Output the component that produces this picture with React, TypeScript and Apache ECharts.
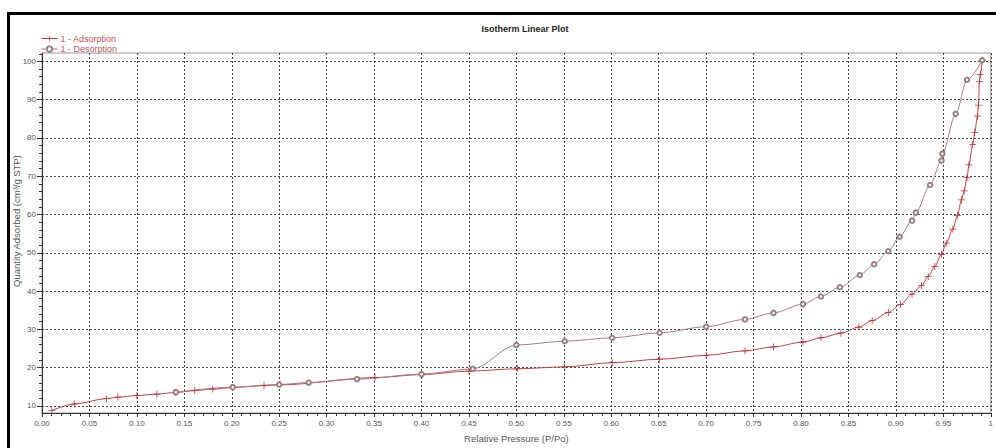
import React, { useEffect, useRef } from "react";
import * as echarts from "echarts";

const adsP = [0.0103, 0.034, 0.068, 0.08, 0.1, 0.121, 0.141, 0.161, 0.18, 0.201, 0.234, 0.251, 0.351, 0.401, 0.45, 0.501, 0.551, 0.601, 0.651, 0.7, 0.741, 0.771, 0.802, 0.821, 0.842, 0.861, 0.875, 0.892, 0.905, 0.917, 0.927, 0.934, 0.941, 0.948, 0.953, 0.96, 0.965, 0.969, 0.972, 0.975, 0.977, 0.981, 0.983, 0.986, 0.987, 0.988, 0.989, 0.991];
const adsQ = [8.8, 10.5, 11.9, 12.3, 12.7, 13.1, 13.5, 14.0, 14.4, 14.8, 15.3, 15.5, 17.4, 18.2, 19.1, 19.7, 20.2, 21.3, 22.2, 23.2, 24.4, 25.4, 26.7, 27.8, 29.0, 30.6, 32.3, 34.4, 36.5, 39.2, 41.4, 43.8, 46.4, 49.6, 52.5, 56.2, 59.8, 63.8, 66.2, 69.7, 73.0, 78.3, 81.4, 85.7, 88.6, 94.8, 96.6, 100.3];

const desP = [0.141, 0.201, 0.25, 0.281, 0.332, 0.4, 0.454, 0.5, 0.551, 0.601, 0.651, 0.7, 0.741, 0.771, 0.802, 0.821, 0.841, 0.862, 0.877, 0.892, 0.904, 0.917, 0.921, 0.936, 0.948, 0.949, 0.963, 0.975, 0.991];
const desQ = [13.6, 14.9, 15.6, 16.1, 17.0, 18.3, 19.7, 25.9, 26.9, 27.8, 29.1, 30.7, 32.6, 34.3, 36.6, 38.6, 41.0, 44.2, 47.0, 50.4, 54.2, 58.4, 60.5, 67.7, 74.1, 75.9, 86.3, 95.2, 100.3];

const yMajor = [10, 20, 30, 40, 50, 60, 70, 80, 90, 100];
const yMinor = [10, 12, 14, 16, 18, 20, 22, 24, 26, 28, 30, 32, 34, 36, 38, 40, 42, 44, 46, 48, 50, 52, 54, 56, 58, 60, 62, 64, 66, 68, 70, 72, 74, 76, 78, 80, 82, 84, 86, 88, 90, 92, 94, 96, 98, 100, 102];

const ADS_COLOR = "#cc3d42";
const DES_COLOR = "#b07b7d";
const PLUS = "path://M4.45,0H5.55V4.45H10V5.55H5.55V10H4.45V5.55H0V4.45H4.45Z";
const FONT = "Liberation Sans";

export default function App() {
  const ref = useRef<HTMLDivElement>(null);
  useEffect(() => {
    if (!ref.current) return;
    const chart = echarts.init(ref.current, null, { renderer: "svg" });
    const ads = adsP.map((p, i) => [p, adsQ[i]]);
    const des = desP.map((p, i) => [p, desQ[i]]);
    const split = { show: true, lineStyle: { color: "#444", type: [2, 2] as any, width: 1 } };
    chart.setOption({
      animation: false,
      backgroundColor: "#fff",
      textStyle: { fontFamily: FONT },
      title: {
        text: "Isotherm Linear Plot",
        left: 520,
        top: 19,
        textAlign: "center",
        textStyle: { fontSize: 9, fontWeight: "bold", color: "#222", fontFamily: FONT },
      },
      legend: {
        left: 41,
        top: 34,
        padding: 0,
        orient: "vertical",
        itemGap: 1.5,
        itemWidth: 16,
        itemHeight: 7,
        lineStyle: { width: 1 },
        textStyle: { color: "#c45457", fontSize: 9, fontFamily: FONT, padding: [0, 0, 0, -2] },
        data: ["1 - Adsorption", "1 - Desorption"],
      },
      grid: {
        left: 42,
        top: 53,
        width: 957,
        height: 371,
        show: true,
        borderColor: "#999",
        borderWidth: 1,
      },
      xAxis: {
        type: "value",
        min: 0,
        max: 1,
        interval: 0.05,
        name: "Relative Pressure (P/Po)",
        nameLocation: "middle",
        nameGap: 20,
        nameTextStyle: { fontSize: 9.5, color: "#555", fontFamily: FONT },
        axisLine: { lineStyle: { color: "#333", width: 1 } },
        axisTick: { length: 4, lineStyle: { color: "#333" } },
        minorTick: { show: true, splitNumber: 5, length: 3, lineStyle: { color: "#333" } },
        axisLabel: {
          fontSize: 8,
          color: "#555",
          margin: 6,
          fontFamily: FONT,
          formatter: (v: number) => (v >= 1 ? "1" : v.toFixed(2)),
        },
        splitLine: split,
      },
      yAxis: [
        {
          type: "value",
          min: 8.15,
          max: 102.2,
          axisLine: { show: true, lineStyle: { color: "#333", width: 1 } },
          axisTick: { show: true, length: 5, customValues: yMajor, lineStyle: { color: "#333" } },
          axisLabel: { fontSize: 8, color: "#555", margin: 6, customValues: yMajor, fontFamily: FONT },
          splitLine: split,
        },
        {
          type: "value",
          min: 8.15,
          max: 102.2,
          position: "left",
          axisLine: { show: false },
          axisTick: { show: true, length: 3, customValues: yMinor, lineStyle: { color: "#333" } },
          axisLabel: { show: false },
          splitLine: { show: false },
        },
      ],
      series: [
        {
          name: "1 - Adsorption",
          type: "line",
          data: ads,
          smooth: 0.3,
          smoothMonotone: "x",
          symbol: PLUS,
          symbolSize: 7,
          showAllSymbol: true,
          lineStyle: { color: ADS_COLOR, width: 1 },
          itemStyle: { color: "#b83036" },
        },
        {
          name: "1 - Desorption",
          type: "line",
          data: des,
          smooth: 0.3,
          smoothMonotone: "x",
          symbol: "emptyCircle",
          symbolSize: 4.5,
          showAllSymbol: true,
          lineStyle: { color: DES_COLOR, width: 1 },
          itemStyle: { color: "#9a8182", borderWidth: 0.7 },
        },
      ],
      graphic: [
        {
          type: "text",
          x: 16,
          y: 221,
          rotation: Math.PI / 2,
          silent: true,
          style: {
            text: "Quantity Adsorbed (cm³/g STP)",
            fontSize: 9.5,
            fontFamily: FONT,
            fill: "#555",
            align: "center",
            verticalAlign: "middle",
          },
        },
        {
          type: "rect",
          shape: { x: 8.5, y: 13.5, width: 1000, height: 450 },
          style: { fill: "none", stroke: "#000", lineWidth: 3 },
          silent: true,
        },
      ],
    });
    return () => chart.dispose();
  }, []);
  return (
    <div
      ref={ref}
      style={{ position: "absolute", left: 0, top: 0, width: 996, height: 448 }}
    />
  );
}
